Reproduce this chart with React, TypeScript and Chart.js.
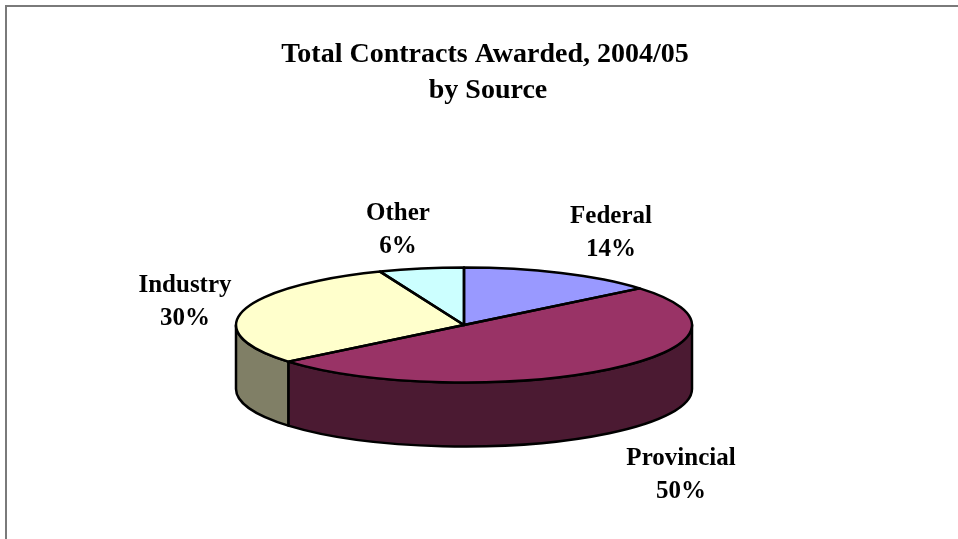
import React, { useEffect, useRef } from "react";
import { Chart, registerables } from "chart.js";

Chart.register(...registerables);

const categories = ["Federal", "Provincial", "Industry", "Other"];
const values = [14, 50, 30, 6];
const topColors = ["#9999FF", "#993366", "#FFFFCC", "#CCFFFF"];
const sideColors = ["#4C4C80", "#4B1A32", "#807F66", "#668080"];
const titleLines = ["Total Contracts Awarded, 2004/05", "by Source"];
// centre x and baseline of the first line of each slice label
const labelAnchors: [number, number][] = [
  [611, 223],
  [681, 465],
  [185, 292],
  [398, 220],
];

const TILT = 0.252;
const DEPTH = 64;
const FONT = "'Liberation Serif', 'Times New Roman', serif";

const pie3d = {
  id: "pie3d",
  beforeDraw(chart: any) {
    const ctx = chart.ctx;
    ctx.save();
    ctx.fillStyle = "#ffffff";
    ctx.fillRect(0, 0, chart.width, chart.height);
    ctx.strokeStyle = "#7a7a7a";
    ctx.lineWidth = 2;
    ctx.beginPath();
    ctx.moveTo(6, chart.height + 2);
    ctx.lineTo(6, 6);
    ctx.lineTo(chart.width + 2, 6);
    ctx.stroke();
    ctx.restore();
  },
  beforeDatasetsDraw(chart: any) {
    const ctx = chart.ctx;
    const arcs = chart.getDatasetMeta(0).data;
    const { x: cx, y: cy, outerRadius: r } = arcs[0];
    const ry = r * TILT;
    ctx.save();
    ctx.lineWidth = 2.5;
    ctx.strokeStyle = "#000000";
    ctx.lineJoin = "round";
    arcs.forEach((arc: any, i: number) => {
      const s = arc.startAngle;
      const e = arc.endAngle;
      for (const k of [-2 * Math.PI, 0, 2 * Math.PI]) {
        const a1 = Math.max(s, k);
        const a2 = Math.min(e, Math.PI + k);
        if (a2 > a1) {
          ctx.beginPath();
          ctx.ellipse(cx, cy, r, ry, 0, a1, a2, false);
          ctx.lineTo(cx + r * Math.cos(a2), cy + DEPTH + ry * Math.sin(a2));
          ctx.ellipse(cx, cy + DEPTH, r, ry, 0, a2, a1, true);
          ctx.closePath();
          ctx.fillStyle = sideColors[i];
          ctx.fill();
          ctx.stroke();
        }
      }
    });
    ctx.restore();
    ctx.save();
    ctx.translate(cx, cy);
    ctx.scale(1, TILT);
    ctx.translate(-cx, -cy);
  },
  afterDatasetsDraw(chart: any) {
    const ctx = chart.ctx;
    ctx.restore();
    const arcs = chart.getDatasetMeta(0).data;
    const { x: cx, y: cy, outerRadius: r } = arcs[0];
    const ry = r * TILT;
    ctx.save();
    ctx.lineWidth = 2.5;
    ctx.strokeStyle = "#000000";
    ctx.lineJoin = "round";
    arcs.forEach((arc: any) => {
      ctx.beginPath();
      ctx.moveTo(cx, cy);
      ctx.ellipse(cx, cy, r, ry, 0, arc.startAngle, arc.endAngle, false);
      ctx.closePath();
      ctx.stroke();
    });
    ctx.restore();
  },
  afterDraw(chart: any) {
    const ctx = chart.ctx;
    ctx.save();
    ctx.fillStyle = "#000000";
    ctx.textAlign = "center";
    ctx.textBaseline = "alphabetic";
    ctx.font = `bold 28px ${FONT}`;
    ctx.fillText(titleLines[0], 485, 62);
    ctx.fillText(titleLines[1], 488, 98);
    ctx.font = `bold 25px ${FONT}`;
    const total = values.reduce((a, b) => a + b, 0);
    categories.forEach((name, i) => {
      const [x, y] = labelAnchors[i];
      const pct = Math.round((values[i] / total) * 100) + "%";
      ctx.fillText(name, x, y);
      ctx.fillText(pct, x, y + 33);
    });
    ctx.restore();
  },
};

export default function App() {
  const ref = useRef<HTMLCanvasElement | null>(null);
  useEffect(() => {
    if (!ref.current) return;
    const chart = new Chart(ref.current, {
      type: "pie",
      data: {
        labels: categories,
        datasets: [
          {
            data: values,
            backgroundColor: topColors,
            borderWidth: 0,
            radius: 228,
            clip: false as any,
          } as any,
        ],
      },
      options: {
        responsive: false,
        animation: false,
        devicePixelRatio: 1,
        layout: { padding: { left: 0, right: 30, top: 111, bottom: 0 } },
        plugins: {
          legend: { display: false },
          title: { display: false },
          tooltip: { enabled: false },
        },
        events: [],
      },
      plugins: [pie3d],
    });
    return () => chart.destroy();
  }, []);
  return (
    <div style={{ position: "absolute", left: 0, top: 0, width: 958, height: 539, background: "#fff" }}>
      <canvas ref={ref} width={958} height={539} style={{ display: "block" }} />
    </div>
  );
}
